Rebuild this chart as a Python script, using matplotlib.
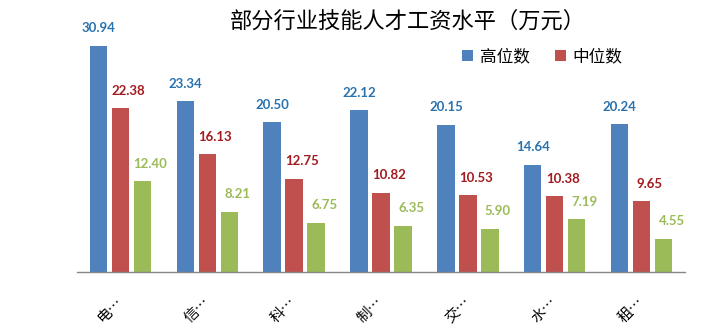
import matplotlib
matplotlib.use("Agg")
import matplotlib.pyplot as plt
from matplotlib.patches import Patch
import numpy as np

plt.rcParams['font.family'] = ['Noto Sans CJK SC', 'DejaVu Sans']

# Data
categories = ["电…", "信…", "科…", "制…", "交…", "水…", "租…"]
series_names = ["高位数", "中位数", "低位数"]
high = [30.94, 23.34, 20.50, 22.12, 20.15, 14.64, 20.24]
mid = [22.38, 16.13, 12.75, 10.82, 10.53, 10.38, 9.65]
low = [12.40, 8.21, 6.75, 6.35, 5.90, 7.19, 4.55]
title = "部分行业技能人才工资水平（万元）"

bar_colors = ["#4F81BD", "#C0504D", "#9BBB59"]
label_colors = ["#2A72AE", "#A31A1F", "#9BBB59"]
label_dx = [0, 5.8, 5.8]  # horizontal nudge of value labels, points

W, H = 709, 332
fig = plt.figure(figsize=(W / 100, H / 100), dpi=100)
ax = fig.add_axes([77 / W, (H - 272) / H, 608 / W, 248.6 / H])

x = np.arange(len(categories))
width = 0.2
step = 0.253
for k, (vals, col) in enumerate(zip([high, mid, low], bar_colors)):
    pos = x + (k - 1) * step
    ax.bar(pos, vals, width=width, color=col, label=series_names[k], zorder=2)
    for p, v in zip(pos, vals):
        ax.annotate(f"{v:.2f}", xy=(p, v), xytext=(label_dx[k], 12.6),
                    textcoords="offset points", ha="center", va="center",
                    fontsize=9.5, fontweight="bold", family=["Lato", "DejaVu Sans"],
                    color=label_colors[k])

ax.set_xlim(-0.5, len(categories) - 0.5)
ax.set_ylim(0, 34)

for s in ["top", "right", "left"]:
    ax.spines[s].set_visible(False)
ax.spines["bottom"].set_color("#868686")
ax.spines["bottom"].set_linewidth(1.0)
ax.set_yticks([])

ax.set_xticks(x)
ax.set_xticklabels(categories, rotation=45, ha="right", va="center",
                   rotation_mode="anchor", fontsize=10.5, color="#000000")
ax.tick_params(axis="x", length=0, pad=20)

fig.text(408 / W, 1 - 21 / H, title, ha="center", va="center",
         fontsize=16, color="#000000")

handles = [Patch(facecolor=bar_colors[0]), Patch(facecolor=bar_colors[1])]
fig.legend(handles, series_names[:2], loc="center left",
           bbox_to_anchor=(462 / W, 1 - 57 / H), ncol=2, frameon=False,
           fontsize=12, handlelength=0.66, handleheight=0.66,
           handletextpad=0.42, columnspacing=1.5, borderpad=0, borderaxespad=0)

fig.savefig("out.png", dpi=100, facecolor="white")
